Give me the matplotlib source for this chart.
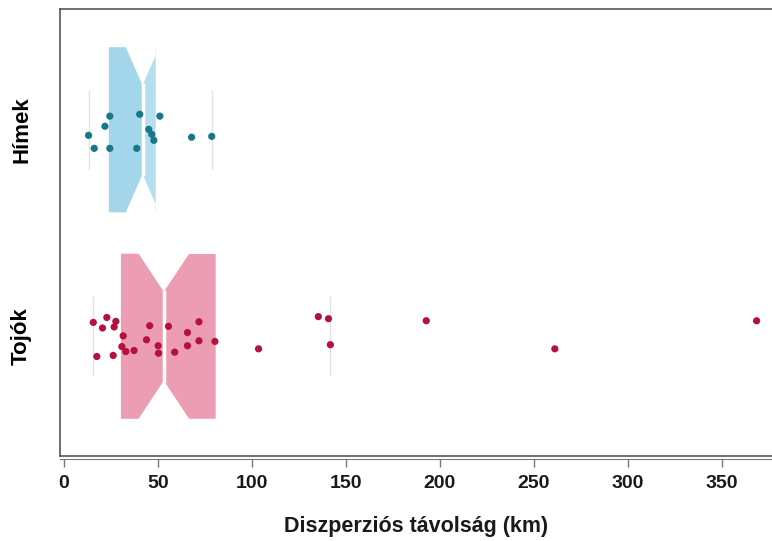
import numpy as np
import matplotlib.pyplot as plt
from matplotlib.patches import Polygon, Rectangle

plt.rcParams['font.family'] = ['Liberation Sans', 'DejaVu Sans']

# groups bottom -> top
groups = ['Tojók', 'Hímek']
box_colors = ['#ec9db4', '#a3d6ea']
right_colors = ['#ec9db4', '#b6def0']
dot_colors = ['#b3123e', '#15798b']

# box statistics (km)
q1 = [30.3, 23.9]
med = [53.1, 41.8]
q3 = [80.7, 48.8]
notch_lo = [39.7, 32.9]
notch_hi = [66.6, 50.7]
whisk_lo = [15.6, 13.1]
whisk_hi = [141.7, 78.6]

# individual birds: dispersal distance (km) and vertical jitter
tojok_km = [15.6, 22.8, 27.6, 26.7, 20.5, 31.5, 30.8, 32.9, 37.3, 17.5, 26.2,
            45.6, 43.9, 55.6, 50.1, 50.3, 58.9, 65.7, 65.7, 71.8, 71.8, 80.3,
            103.5, 135.3, 140.7, 141.7, 192.7, 261.1, 368.4]
tojok_jit = [0.067, 0.091, 0.072, 0.045, 0.040, 0.002, -0.050, -0.074, -0.069,
             -0.098, -0.093, 0.051, -0.017, 0.048, -0.046, -0.082, -0.077, 0.018,
             -0.046, 0.070, -0.022, -0.025, -0.061, 0.095, 0.085, -0.041, 0.075,
             -0.061, 0.075]
himek_km = [24.4, 40.3, 51.0, 21.8, 13.1, 45.1, 46.7, 47.8, 67.9, 78.6,
            16.1, 24.4, 38.7]
himek_jit = [0.066, 0.075, 0.066, 0.017, -0.027, 0.002, -0.022, -0.051, -0.036,
             -0.032, -0.090, -0.090, -0.090]

points_km = [tojok_km, himek_km]
points_jit = [tojok_jit, himek_jit]

xticks = [0, 50, 100, 150, 200, 250, 300, 350]

fig = plt.figure(figsize=(7.72, 5.41), dpi=100)
ax = fig.add_axes([60 / 772, 1 - 456 / 541, 1 - 60 / 772, (456 - 9) / 541])

# frame first: moving a spine rebuilds the ticks
for s in ['top', 'left']:
    ax.spines[s].set_color('#555555')
    ax.spines[s].set_linewidth(1.2)
ax.spines['right'].set_visible(False)
ax.spines['bottom'].set_position(('outward', 2))
ax.spines['bottom'].set_color('#777777')
ax.plot([0, 1], [0, 0], transform=ax.transAxes, color='#555555', lw=1.2,
        clip_on=False, zorder=5)

h = 0.4      # half height of a box
w = 0.215    # half height of the notch waist
for i, name in enumerate(groups):
    y0 = i + 1
    left = Polygon([(q1[i], y0 - h), (notch_lo[i], y0 - h), (med[i], y0 - w),
                    (med[i], y0 + w), (notch_lo[i], y0 + h), (q1[i], y0 + h)],
                   closed=True, facecolor=box_colors[i], edgecolor='none', zorder=2)
    right = Polygon([(med[i], y0 - w), (notch_hi[i], y0 - h), (q3[i], y0 - h),
                     (q3[i], y0 + h), (notch_hi[i], y0 + h), (med[i], y0 + w)],
                    closed=True, facecolor=right_colors[i], edgecolor='none', zorder=2)
    clip = Rectangle((q1[i], y0 - h), q3[i] - q1[i], 2 * h, transform=ax.transData)
    ax.add_patch(left)
    ax.add_patch(right)
    right.set_clip_path(clip)
    ax.plot([med[i], med[i]], [y0 - w, y0 + w], color='white', lw=2.5, zorder=3)
    # faint whisker caps
    for wv in (whisk_lo[i], whisk_hi[i]):
        ax.plot([wv, wv], [y0 - 0.19, y0 + 0.19], color='#e2e2e2', lw=1, zorder=1)
    ax.scatter(points_km[i], y0 + np.array(points_jit[i]), s=27,
               color=dot_colors[i], edgecolors='none', zorder=4)

ax.set_xlim(-2.1, 376.6)
ax.set_ylim(0.42, 2.585)

ax.set_yticks([1, 2])
ax.set_yticklabels(groups, rotation=90, va='center')
plt.setp(ax.get_yticklabels(), fontsize=16, fontweight='bold')
ax.tick_params(axis='y', length=0, pad=20)

ax.set_xticks(xticks)
ax.set_xticklabels([str(t) for t in xticks])
plt.setp(ax.get_xticklabels(), fontsize=14, fontweight='bold', color='#1a1a1a')
ax.tick_params(axis='x', length=6, color='#777777', width=1, pad=6)

ax.set_xlabel('Diszperziós távolság (km)', fontsize=15.5, fontweight='bold',
              labelpad=17, color='#1a1a1a')

fig.savefig('out.png', dpi=100)
